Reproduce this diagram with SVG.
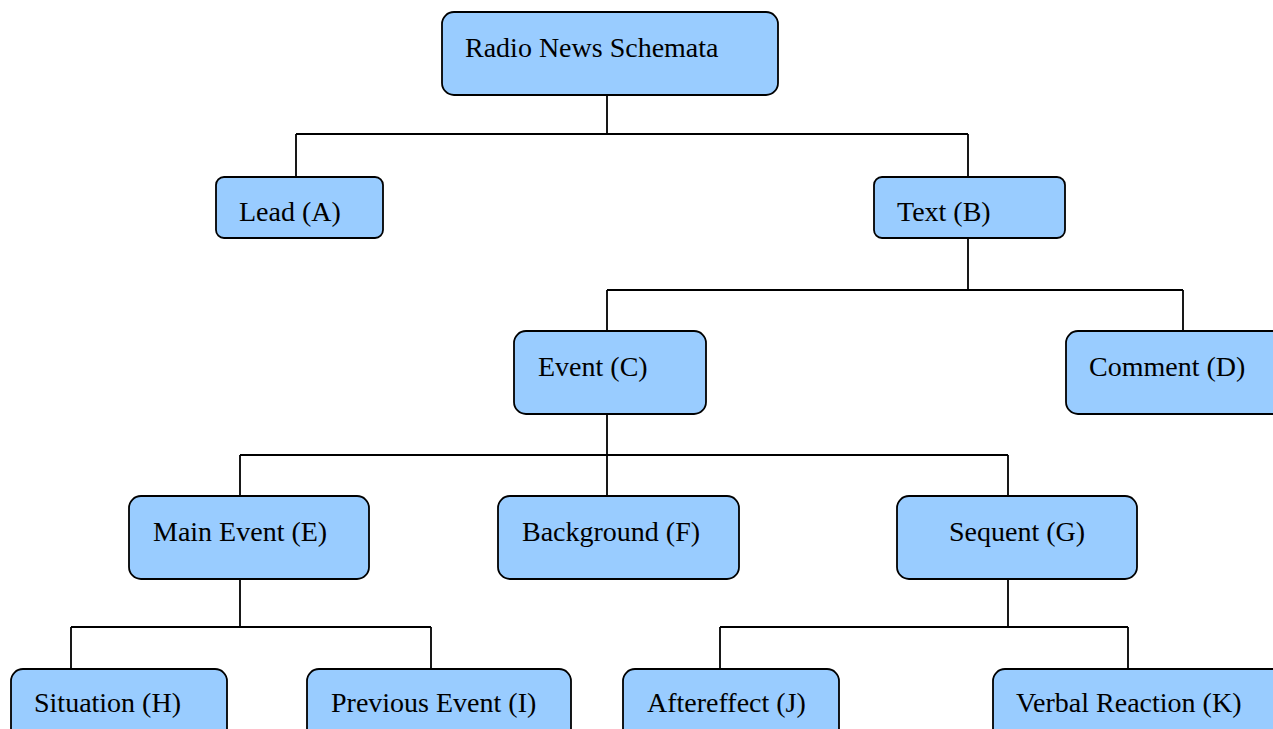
<svg xmlns="http://www.w3.org/2000/svg" width="1273" height="729" viewBox="0 0 1273 729">
<style>
.box{fill:#99ccff;stroke:#000;stroke-width:1.8}
.lbl{font-family:"Liberation Serif","Times New Roman",serif;font-size:28px;fill:#000}
.conn{fill:none;stroke:#000;stroke-width:1.8}
</style>
<rect width="1273" height="729" fill="#fff"/>
<g id="connectors" class="conn">
<path d="M607 95V134M296 134H968M296 134V177M968 134V177"/>
<path d="M968 238V290M607 290H1183M607 290V331M1183 290V331"/>
<path d="M607 414V496M240 455H1008M240 455V496M1008 455V496"/>
<path d="M240 579V627M71 627H431M71 627V669M431 627V669"/>
<path d="M1008 579V627M720 627H1128M720 627V669M1128 627V669"/>
</g>
<g id="root"><rect class="box" x="442" y="12" width="336" height="83" rx="12"/><text class="lbl" x="465" y="57">Radio News Schemata</text></g>
<g id="A"><rect class="box" x="216" y="177" width="167" height="61" rx="8"/><text class="lbl" x="239" y="221">Lead (A)</text></g>
<g id="B"><rect class="box" x="874" y="177" width="191" height="61" rx="8"/><text class="lbl" x="897" y="221">Text (B)</text></g>
<g id="C"><rect class="box" x="514" y="331" width="192" height="83" rx="12"/><text class="lbl" x="538" y="376">Event (C)</text></g>
<g id="D"><rect class="box" x="1066" y="331" width="230" height="83" rx="12"/><text class="lbl" x="1089" y="376">Comment (D)</text></g>
<g id="E"><rect class="box" x="129" y="496" width="240" height="83" rx="12"/><text class="lbl" x="153" y="541">Main Event (E)</text></g>
<g id="F"><rect class="box" x="498" y="496" width="241" height="83" rx="12"/><text class="lbl" x="522" y="541">Background (F)</text></g>
<g id="G"><rect class="box" x="897" y="496" width="240" height="83" rx="12"/><text class="lbl" x="949" y="541">Sequent (G)</text></g>
<g id="H"><rect class="box" x="11" y="669" width="216" height="83" rx="12"/><text class="lbl" x="34" y="712">Situation (H)</text></g>
<g id="I"><rect class="box" x="307" y="669" width="264" height="83" rx="12"/><text class="lbl" x="331" y="712">Previous Event (I)</text></g>
<g id="J"><rect class="box" x="623" y="669" width="216" height="83" rx="12"/><text class="lbl" x="647" y="712">Aftereffect (J)</text></g>
<g id="K"><rect class="box" x="993" y="669" width="300" height="83" rx="12"/><text class="lbl" x="1016" y="712">Verbal Reaction (K)</text></g>
</svg>
